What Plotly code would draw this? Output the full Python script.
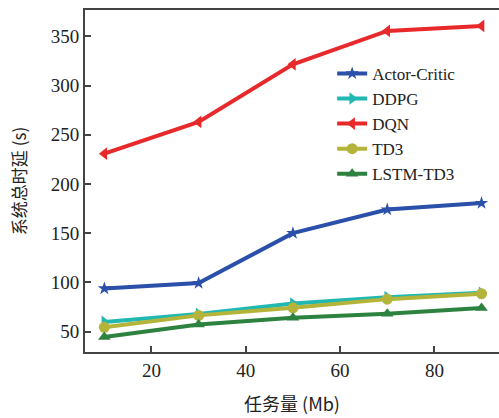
import plotly.graph_objects as go

x_vals = [10, 30, 50, 70, 90]
actor_critic = [93.8, 99.3, 150.0, 174.0, 180.6]
ddpg = [59.8, 68.0, 78.5, 85.0, 89.5]
dqn = [230.8, 263.0, 321.5, 355.4, 360.5]
td3 = [54.4, 66.5, 74.2, 83.0, 88.5]
lstm_td3 = [44.6, 57.3, 64.1, 68.2, 74.0]

series = [
    ("Actor-Critic", actor_critic, "#2a50aa", "star", 10),
    ("DDPG", ddpg, "#22b8b2", "triangle-right", 11),
    ("DQN", dqn, "#e8292b", "triangle-left", 11),
    ("TD3", td3, "#b4b43a", "circle", 11),
    ("LSTM-TD3", lstm_td3, "#2e8240", "triangle-up", 11),
]

font_family = "Liberation Serif"
cjk_family = "Noto Sans CJK SC"

fig = go.Figure()
for name, vals, color, sym, size in series:
    fig.add_trace(go.Scatter(
        x=x_vals, y=vals, name=name, mode="lines+markers",
        line=dict(color=color, width=4),
        marker=dict(symbol=sym, size=size, color=color),
    ))

fig.update_layout(
    width=499, height=418,
    margin=dict(l=85, r=0, t=10, b=66),
    paper_bgcolor="white", plot_bgcolor="white",
    font=dict(family=font_family, size=19, color="#222222"),
    showlegend=True,
    legend=dict(
        x=0.597, y=0.866, xanchor="left", yanchor="top",
        bgcolor="rgba(0,0,0,0)", font=dict(size=17, family=font_family, color="#222222"),
        itemwidth=30, tracegroupgap=0,
    ),
    xaxis=dict(
        range=[5.9, 93.7], tickvals=[20, 40, 60, 80],
        showline=True, linecolor="#444444", linewidth=2, mirror=True,
        ticks="inside", ticklen=6, tickwidth=1.5, tickcolor="#444444",
        showgrid=False, zeroline=False,
        title=dict(text="任务量 (Mb)", font=dict(size=18, family=cjk_family), standoff=19),
        tickfont=dict(size=19, family=font_family),
    ),
    yaxis=dict(
        range=[29.3, 376.7], tickvals=[50, 100, 150, 200, 250, 300, 350],
        showline=True, linecolor="#444444", linewidth=2, mirror=False,
        ticks="inside", ticklen=6, tickwidth=1.5, tickcolor="#444444",
        showgrid=False, zeroline=False,
        title=dict(text="系统总时延 (s)", font=dict(size=17, family=cjk_family), standoff=20),
        tickfont=dict(size=19, family=font_family),
    ),
)

fig.write_html("out.html")
